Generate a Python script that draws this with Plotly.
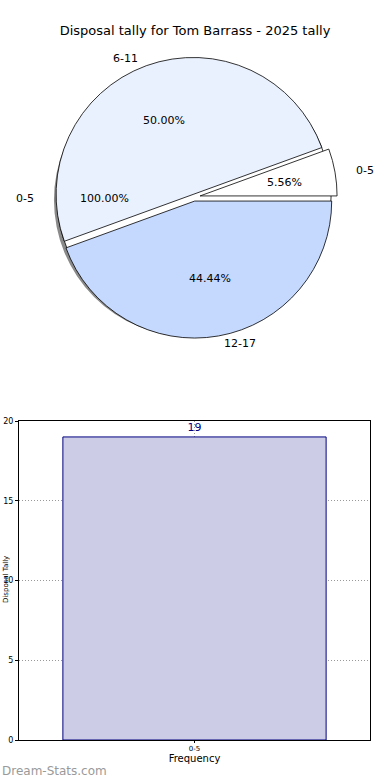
import math
import plotly.graph_objects as go

# ---- data ----
pie_labels = ["0-5", "6-11", "12-17"]
pie_values = [1, 9, 8]
base_labels = ["0-5"]
base_values = [19]
bar_categories = ["0-5"]
bar_values = [19]
y_ticks = [0, 5, 10, 15, 20]

title_text = "Disposal tally for Tom Barrass - 2025 tally"

W, H = 390, 780
FONT = "DejaVu Sans"

# pie geometry (pixels)
cx, cy = 194, 197
R = 137
rx_t, ry_t = 142, 132          # text placement radii
pulls = [0.045, 0.02, 0.03]
pie_colors = ["#ffffff", "#eaf1fe", "#c5d9fe"]


def dom(cxp, cyp, r):
    return dict(x=[(cxp - r) / W, (cxp + r) / W],
                y=[1 - (cyp + r) / H, 1 - (cyp - r) / H])


fig = go.Figure()

# shadow of pies
fig.add_trace(go.Pie(values=base_values, labels=base_labels, sort=False,
                     marker=dict(colors=["#8a8a8a"], line=dict(width=0)),
                     textinfo="none", hoverinfo="skip", showlegend=False,
                     domain=dom(cx - 3, cy + 3, R)))
# base (100%) pie
fig.add_trace(go.Pie(values=base_values, labels=base_labels, sort=False,
                     marker=dict(colors=["#ffffff"], line=dict(color="black", width=0.8)),
                     textinfo="none", hoverinfo="skip", showlegend=False,
                     domain=dom(cx, cy, R)))
# main pie
mp = max(pulls)
first_span = 360.0 * pie_values[0] / sum(pie_values)
fig.add_trace(go.Pie(values=pie_values, labels=pie_labels, sort=False,
                     direction="counterclockwise", rotation=90 - first_span, pull=pulls,
                     marker=dict(colors=pie_colors, line=dict(color="black", width=0.8)),
                     textinfo="none", showlegend=False,
                     domain=dom(cx, cy, R * (1 + mp))))

annotations = []


def add_text(txt, x_px, y_px, size=11, xanchor="center"):
    annotations.append(dict(text=txt, x=x_px / W, y=1 - y_px / H, xref="paper", yref="paper",
                            showarrow=False, xanchor=xanchor, yanchor="middle",
                            font=dict(family=FONT, size=size, color="black")))


# base pie texts (single slice at 180 deg)
add_text(base_labels[0], cx - 1.1 * rx_t - 2, cy + 1, xanchor="right")
add_text("{:.2f}%".format(100.0), cx - 0.6 * rx_t - 4, cy + 1)

# main pie texts
total = sum(pie_values)
start = 0.0
for lab, v, ex in zip(pie_labels, pie_values, pulls):
    span = 360.0 * v / total
    mid = math.radians(start + span / 2)
    start += span
    c, s = math.cos(mid), math.sin(mid)
    lx = cx + (1.1 + ex) * rx_t * c
    ly = cy - (1.1 + ex) * ry_t * s
    add_text(lab, lx, ly, xanchor="left" if c > 0 else "right")
    px = cx + (0.6 + ex) * rx_t * c
    py = cy - (0.6 + ex) * ry_t * s
    add_text("{:.2f}%".format(100.0 * v / total), px, py)

# bar chart
fig.add_trace(go.Bar(x=bar_categories, y=bar_values, width=0.75,
                     marker=dict(color="#ccccE6", line=dict(color="#000080", width=1)),
                     text=[str(v) for v in bar_values], textposition="outside",
                     textfont=dict(family=FONT, size=11, color="#000080"),
                     cliponaxis=False, showlegend=False,
                     xaxis="x", yaxis="y"))

grid_dash = "1px,2px"
fig.update_layout(
    width=W, height=H,
    margin=dict(l=0, r=0, t=0, b=0, autoexpand=False),
    paper_bgcolor="white", plot_bgcolor="white",
    font=dict(family=FONT, color="black"),
    title=dict(text=title_text, x=0.5, xanchor="center", y=1 - 30 / H, yanchor="middle",
               font=dict(family=FONT, size=13, color="black")),
    xaxis=dict(domain=[19 / W, 370 / W], range=[-0.5, 0.5], anchor="y", automargin=False,
               showline=True, linecolor="black", linewidth=1, mirror=True,
               showgrid=True, gridcolor="#999999", griddash=grid_dash, gridwidth=1,
               ticks="outside", ticklen=2, tickcolor="black",
               tickfont=dict(family=FONT, size=7),
               title=dict(text="Frequency", font=dict(family=FONT, size=10), standoff=2),
               zeroline=False),
    yaxis=dict(domain=[1 - 740 / H, 1 - 421 / H], range=[0, 20], anchor="x", automargin=False,
               tickvals=y_ticks, showline=True, linecolor="black", linewidth=1, mirror=True,
               showgrid=True, gridcolor="#999999", griddash=grid_dash, gridwidth=1,
               ticks="outside", ticklen=3, tickcolor="black",
               tickfont=dict(family=FONT, size=8), zeroline=False),
    annotations=annotations + [
        dict(text="Disposal Tally", x=0, y=1 - 580 / H, xref="paper", yref="paper",
             showarrow=False, textangle=-90, xanchor="left", yanchor="middle",
             font=dict(family=FONT, size=7, color="black")),
        dict(text="Dream-Stats.com", x=0, y=1 - 771 / H, xref="paper", yref="paper",
             showarrow=False, xanchor="left", yanchor="middle",
             font=dict(family=FONT, size=12, color="#9a9a9a")),
    ],
)

fig.write_html("out.html", config={"displayModeBar": False},
               post_script="document.body.style.margin='0';document.body.style.overflow='hidden';")
